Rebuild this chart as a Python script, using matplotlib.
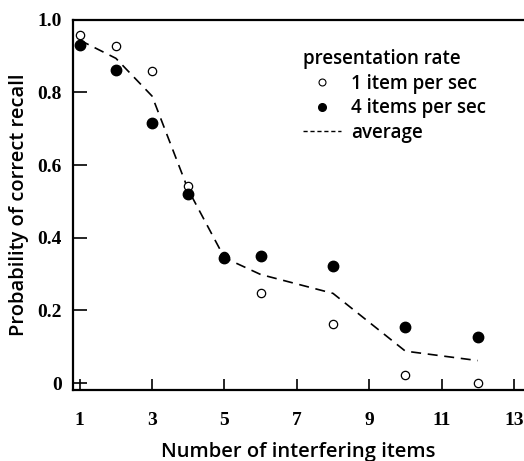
import numpy as np
import matplotlib
matplotlib.use('Agg')
import matplotlib.pyplot as plt
from matplotlib.lines import Line2D

# data
items = [1, 2, 3, 4, 5, 6, 8, 10, 12]
rate_1_per_sec = [0.957, 0.927, 0.858, 0.543, 0.35, 0.248, 0.163, 0.022, 0.0]
rate_4_per_sec = [0.932, 0.861, 0.717, 0.521, 0.345, 0.35, 0.323, 0.154, 0.127]
average = [0.944, 0.894, 0.790, 0.532, 0.345, 0.299, 0.247, 0.088, 0.062]

x_ticks = [1, 3, 5, 7, 9, 11, 13]
y_ticks = [0, 0.2, 0.4, 0.6, 0.8, 1.0]
y_ticklabels = ['0', '0.2', '0.4', '0.6', '0.8', '1.0']

plt.rcParams['font.family'] = ['Open Sans', 'DejaVu Sans']

fig = plt.figure(figsize=(5.24, 4.61), dpi=100)
ax = fig.add_axes([0.139, 0.154, 0.859, 0.803])

ax.plot(items, average, color='black', lw=1.2, ls=(0, (6, 4)))
ax.plot(items, rate_1_per_sec, 'o', ms=6, mfc='white', mec='black', mew=0.9, ls='none')
ax.plot(items, rate_4_per_sec, 'o', ms=7.5, mfc='black', mec='black', ls='none')

ax.set_xlim(0.81, 13.25)
ax.set_ylim(-0.019, 1.0)

ax.spines['right'].set_visible(False)
for s in ['left', 'bottom', 'top']:
    ax.spines[s].set_linewidth(1.6)

ax.set_xticks(x_ticks)
ax.set_xticklabels([str(t) for t in x_ticks])
ax.set_yticks(y_ticks)
ax.set_yticklabels(y_ticklabels)
ax.tick_params(axis='x', direction='in', length=8, width=1.2, pad=16)
ax.tick_params(axis='y', direction='in', length=10, width=1.2, pad=8)
for lbl in ax.get_xticklabels() + ax.get_yticklabels():
    lbl.set_family('Liberation Serif')
    lbl.set_weight('bold')
    lbl.set_fontsize(14)

ax.set_xlabel('Number of interfering items', fontsize=14.5, weight='semibold', labelpad=9)
ax.set_ylabel('Probability of correct recall', fontsize=14.5, weight='semibold', labelpad=6)

handles = [
    Line2D([], [], marker='o', ms=5, mfc='white', mec='black', mew=0.8, ls='none'),
    Line2D([], [], marker='o', ms=5.5, mfc='black', mec='black', ls='none'),
    Line2D([], [], color='black', lw=1.0, ls=(0, (3, 2))),
]
leg = ax.legend(handles, ['1 item per sec', '4 items per sec', 'average'],
                title='presentation rate', loc='upper left',
                bbox_to_anchor=(303 / 524, 1 - 49 / 461), bbox_transform=fig.transFigure,
                frameon=False, fontsize=13.5, title_fontsize=13.5, handlelength=2.0,
                handletextpad=0.55, labelspacing=0.25, borderpad=0, borderaxespad=0,
                alignment='left')
for t in leg.get_texts() + [leg.get_title()]:
    t.set_weight('semibold')

plt.savefig('out.png', dpi=100)
